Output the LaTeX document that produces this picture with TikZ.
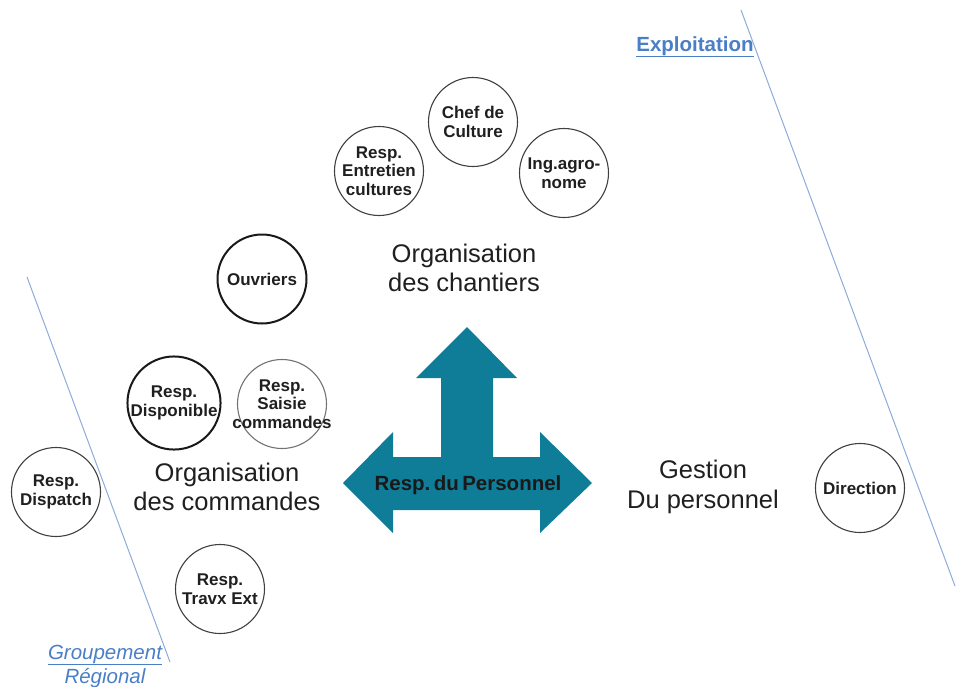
\documentclass[tikz,border=0pt]{standalone}
\usepackage{fontspec}
\setmainfont{Liberation Sans}
\definecolor{teal1}{HTML}{0F7D98}
\definecolor{linkblue}{HTML}{4A7EC7}
\definecolor{sepline}{HTML}{8EAADB}
\begin{document}
\begin{tikzpicture}[x=1pt,y=-1pt,
  circ/.style={circle,draw=black!75,line width=1.1pt,minimum size=89pt,inner sep=0pt,align=center,text=black!88,font=\fontsize{17}{18.5}\selectfont\bfseries},
  circthick/.style={circ,draw=black!90,line width=2pt},
  circgray/.style={circ,draw=black!55,line width=1.1pt,inner sep=-15pt},
  grouptext/.style={align=center,text=black!88,font=\fontsize{25.5}{29.5}\selectfont},
  sep/.style={draw=sepline,line width=1pt},
  link/.style={text=linkblue,inner xsep=0pt,inner ysep=1.5pt,anchor=base},
  uline/.style={draw=linkblue,line width=1pt}]
\useasboundingbox (0,0) rectangle (956,686);
% separator lines
\coordinate (l1) at (27,277); \coordinate (l2) at (170,662);
\coordinate (r1) at (741,10); \coordinate (r2) at (955,586);
\draw[sep] (l1) -- (l2);
\draw[sep] (r1) -- (r2);
% big arrow
\fill[teal1] (467,327) -- (517,378) -- (493,378) -- (493,457) -- (540,457) -- (540,432) -- (592,483)
  -- (540,533) -- (540,510) -- (393,510) -- (393,533) -- (343,483) -- (393,432) -- (393,457)
  -- (441,457) -- (441,378) -- (416,378) -- cycle;
\node[font=\fontsize{20.5}{22}\selectfont\bfseries,text=black!90] (rp) at (468,485) {Resp.\,du\,Personnel};
% circles
\node[circ] (chef) at (473,122) {Chef de\\Culture};
\node[circ] (entr) at (379,171) {Resp.\\Entretien\\cultures};
\node[circ] (ing) at (564,173) {Ing.agro-\\nome};
\node[circthick] (ouv) at (262,279) {Ouvriers};
\node[circthick] (disp) at (174,403) {Resp.\\Disponible};
\node[circgray] (sais) at (282,404) {Resp.\\Saisie\\commandes};
\node[circ] (dispatch) at (56,492) {Resp.\\Dispatch};
\node[circ] (travx) at (220,589) {Resp.\\Travx Ext};
\node[circ] (dir) at (860,488) {Direction};
% group texts
\node[grouptext] (chant) at (464,268) {Organisation\\des chantiers};
\node[grouptext] (comm) at (227,487) {Organisation\\des commandes};
\node[grouptext] (gest) at (703,487) {Gestion\\Du personnel};
% labels
\node[link,font=\fontsize{20.5}{22}\selectfont\bfseries] (expl) at (695,51) {Exploitation};
\draw[uline] (expl.south west) -- (expl.south east);
\node[link,font=\fontsize{20.5}{22}\selectfont\itshape] (grp1) at (105,659) {Groupement};
\draw[uline] (grp1.south west) -- (grp1.south east);
\node[link,font=\fontsize{20.5}{22}\selectfont\itshape] (grp2) at (105,683) {Régional};
\draw[uline] (grp2.south west) -- (grp2.south east);
\end{tikzpicture}
\end{document}
